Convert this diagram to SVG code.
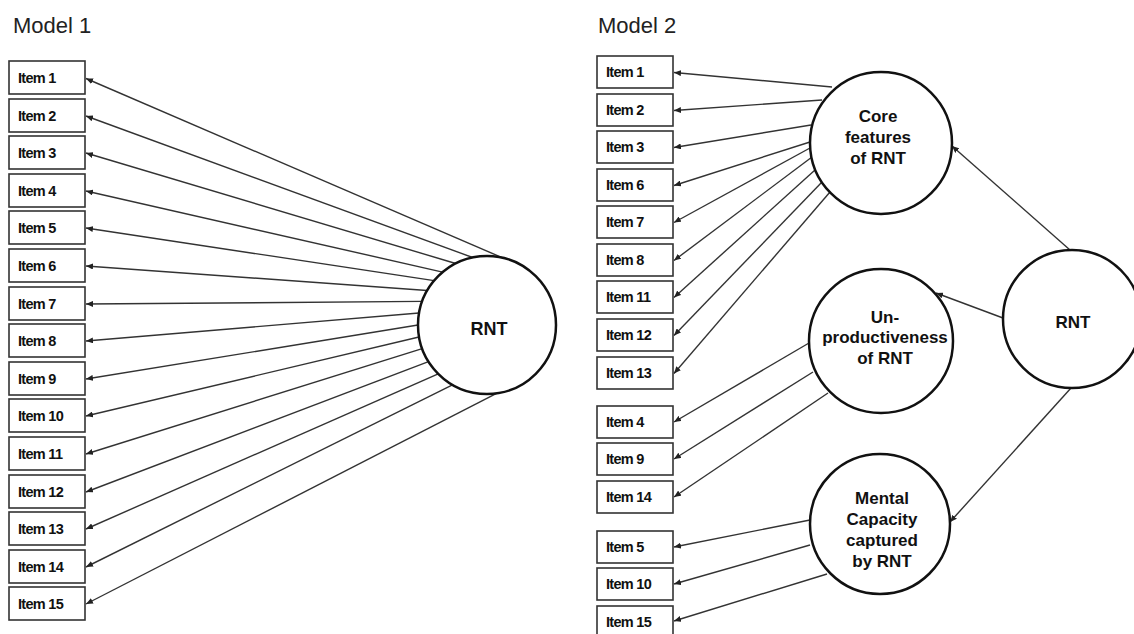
<svg xmlns="http://www.w3.org/2000/svg" width="1134" height="634" viewBox="0 0 1134 634">
<defs>
<marker id="ah" markerWidth="7" markerHeight="6" refX="7" refY="3" orient="auto" markerUnits="userSpaceOnUse">
<path d="M0,0 L7,3 L0,6 z" fill="#222"/>
</marker>
<style>
.title{font-family:"Liberation Sans",Arial,sans-serif;font-size:22px;fill:#222}
.box{fill:#fff;stroke:#333;stroke-width:1.6}
.it{font-family:"Liberation Sans",Arial,sans-serif;font-size:14.5px;font-weight:bold;letter-spacing:-0.7px;fill:#111}
.circ{fill:#fff;stroke:#111;stroke-width:2.5}
.cl{font-family:"Liberation Sans",Arial,sans-serif;font-size:17px;font-weight:bold;fill:#111;text-anchor:middle}
.ln{stroke:#333;stroke-width:1.4;fill:none;marker-end:url(#ah)}
</style>
</defs>
<rect width="1134" height="634" fill="#fff"/>
<text class="title" x="13" y="33">Model 1</text>
<text class="title" x="598" y="33">Model 2</text>

<g id="connectors">
<line class="ln" x1="502.5" y1="257.8" x2="86" y2="78.5"/>
<line class="ln" x1="472.7" y1="257.5" x2="86" y2="116"/>
<line class="ln" x1="455.7" y1="263.5" x2="86" y2="153"/>
<line class="ln" x1="442.6" y1="272.1" x2="86" y2="191"/>
<line class="ln" x1="434.1" y1="280.6" x2="86" y2="228"/>
<line class="ln" x1="427.2" y1="290.5" x2="86" y2="266"/>
<line class="ln" x1="422.2" y1="301.4" x2="86" y2="304"/>
<line class="ln" x1="419" y1="313" x2="86" y2="341"/>
<line class="ln" x1="418" y1="325" x2="86" y2="379"/>
<line class="ln" x1="419" y1="337" x2="86" y2="416"/>
<line class="ln" x1="422.2" y1="348.6" x2="86" y2="454"/>
<line class="ln" x1="428.5" y1="361.6" x2="86" y2="492"/>
<line class="ln" x1="438.2" y1="373.8" x2="86" y2="529"/>
<line class="ln" x1="452.5" y1="384.8" x2="86" y2="567"/>
<line class="ln" x1="496.6" y1="393.3" x2="86" y2="604"/>

<line class="ln" x1="832" y1="87" x2="674" y2="72.5"/>
<line class="ln" x1="822" y1="100" x2="674" y2="110.5"/>
<line class="ln" x1="811" y1="125" x2="674" y2="147.5"/>
<line class="ln" x1="810" y1="142" x2="674" y2="185.5"/>
<line class="ln" x1="810" y1="148" x2="674" y2="222.5"/>
<line class="ln" x1="812" y1="157" x2="674" y2="260.5"/>
<line class="ln" x1="815" y1="170" x2="674" y2="297.5"/>
<line class="ln" x1="822" y1="182" x2="674" y2="335.5"/>
<line class="ln" x1="830" y1="192" x2="674" y2="373.5"/>

<line class="ln" x1="809" y1="343" x2="674" y2="422"/>
<line class="ln" x1="813" y1="372" x2="674" y2="459"/>
<line class="ln" x1="828" y1="393" x2="674" y2="497"/>

<line class="ln" x1="810" y1="520" x2="674" y2="547"/>
<line class="ln" x1="810" y1="545" x2="674" y2="584"/>
<line class="ln" x1="827" y1="574" x2="674" y2="621"/>

<line class="ln" x1="1070" y1="250" x2="952" y2="146"/>
<line class="ln" x1="1003" y1="318" x2="936" y2="293"/>
<line class="ln" x1="1071" y1="388" x2="950" y2="522"/>
</g>

<g id="m1-items">
<g id="m1-item1"><rect class="box" x="9" y="61" width="76" height="33"/><text class="it" x="18" y="82.5">Item 1</text></g>
<g id="m1-item2"><rect class="box" x="9" y="99" width="76" height="33"/><text class="it" x="18" y="120.5">Item 2</text></g>
<g id="m1-item3"><rect class="box" x="9" y="136" width="76" height="33"/><text class="it" x="18" y="157.5">Item 3</text></g>
<g id="m1-item4"><rect class="box" x="9" y="174" width="76" height="33"/><text class="it" x="18" y="195.5">Item 4</text></g>
<g id="m1-item5"><rect class="box" x="9" y="211" width="76" height="33"/><text class="it" x="18" y="232.5">Item 5</text></g>
<g id="m1-item6"><rect class="box" x="9" y="249" width="76" height="33"/><text class="it" x="18" y="270.5">Item 6</text></g>
<g id="m1-item7"><rect class="box" x="9" y="287" width="76" height="33"/><text class="it" x="18" y="308.5">Item 7</text></g>
<g id="m1-item8"><rect class="box" x="9" y="324" width="76" height="33"/><text class="it" x="18" y="345.5">Item 8</text></g>
<g id="m1-item9"><rect class="box" x="9" y="362" width="76" height="33"/><text class="it" x="18" y="383.5">Item 9</text></g>
<g id="m1-item10"><rect class="box" x="9" y="399" width="76" height="33"/><text class="it" x="18" y="420.5">Item 10</text></g>
<g id="m1-item11"><rect class="box" x="9" y="437" width="76" height="33"/><text class="it" x="18" y="458.5">Item 11</text></g>
<g id="m1-item12"><rect class="box" x="9" y="475" width="76" height="33"/><text class="it" x="18" y="496.5">Item 12</text></g>
<g id="m1-item13"><rect class="box" x="9" y="512" width="76" height="33"/><text class="it" x="18" y="533.5">Item 13</text></g>
<g id="m1-item14"><rect class="box" x="9" y="550" width="76" height="33"/><text class="it" x="18" y="571.5">Item 14</text></g>
<g id="m1-item15"><rect class="box" x="9" y="587" width="76" height="33"/><text class="it" x="18" y="608.5">Item 15</text></g>
</g>

<g id="m1-rnt"><circle class="circ" cx="487" cy="325" r="69"/><text class="cl" x="489" y="335" style="font-size:18px">RNT</text></g>

<g id="m2-items">
<g id="m2-item1"><rect class="box" x="597" y="56" width="76" height="32"/><text class="it" x="606" y="77">Item 1</text></g>
<g id="m2-item2"><rect class="box" x="597" y="94" width="76" height="32"/><text class="it" x="606" y="115">Item 2</text></g>
<g id="m2-item3"><rect class="box" x="597" y="131" width="76" height="32"/><text class="it" x="606" y="152">Item 3</text></g>
<g id="m2-item6"><rect class="box" x="597" y="169" width="76" height="32"/><text class="it" x="606" y="190">Item 6</text></g>
<g id="m2-item7"><rect class="box" x="597" y="206" width="76" height="32"/><text class="it" x="606" y="227">Item 7</text></g>
<g id="m2-item8"><rect class="box" x="597" y="244" width="76" height="32"/><text class="it" x="606" y="265">Item 8</text></g>
<g id="m2-item11"><rect class="box" x="597" y="281" width="76" height="32"/><text class="it" x="606" y="302">Item 11</text></g>
<g id="m2-item12"><rect class="box" x="597" y="319" width="76" height="32"/><text class="it" x="606" y="340">Item 12</text></g>
<g id="m2-item13"><rect class="box" x="597" y="357" width="76" height="32"/><text class="it" x="606" y="378">Item 13</text></g>
<g id="m2-item4"><rect class="box" x="597" y="406" width="76" height="32"/><text class="it" x="606" y="427">Item 4</text></g>
<g id="m2-item9"><rect class="box" x="597" y="443" width="76" height="32"/><text class="it" x="606" y="464">Item 9</text></g>
<g id="m2-item14"><rect class="box" x="597" y="481" width="76" height="32"/><text class="it" x="606" y="502">Item 14</text></g>
<g id="m2-item5"><rect class="box" x="597" y="531" width="76" height="32"/><text class="it" x="606" y="552">Item 5</text></g>
<g id="m2-item10"><rect class="box" x="597" y="568" width="76" height="32"/><text class="it" x="606" y="589">Item 10</text></g>
<g id="m2-item15"><rect class="box" x="597" y="606" width="76" height="32"/><text class="it" x="606" y="627">Item 15</text></g>
</g>

<g id="m2-core"><circle class="circ" cx="881" cy="143" r="71"/>
<text class="cl" x="878" y="122">Core</text><text class="cl" x="878" y="143">features</text><text class="cl" x="878" y="164">of RNT</text></g>
<g id="m2-unprod"><circle class="circ" cx="881" cy="341" r="72"/>
<text class="cl" x="885" y="323">Un-</text><text class="cl" x="885" y="343">productiveness</text><text class="cl" x="885" y="364">of RNT</text></g>
<g id="m2-mental"><circle class="circ" cx="880" cy="524" r="70"/>
<text class="cl" x="882" y="504">Mental</text><text class="cl" x="882" y="525">Capacity</text><text class="cl" x="882" y="546">captured</text><text class="cl" x="882" y="567">by RNT</text></g>
<g id="m2-rnt"><circle class="circ" cx="1072" cy="319" r="69"/><text class="cl" x="1073" y="328">RNT</text></g>
</svg>
